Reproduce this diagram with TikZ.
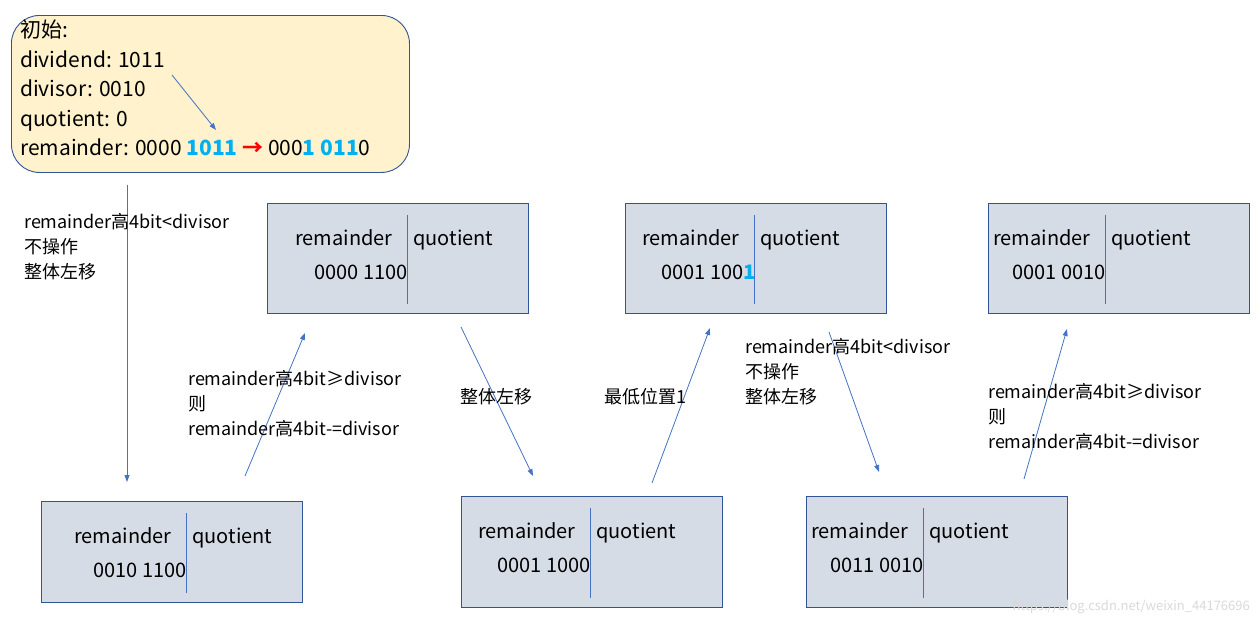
\documentclass[tikz,border=0pt]{standalone}
\usepackage{fontspec}
\setmainfont{Noto Sans CJK SC}
\usetikzlibrary{arrows.meta}
\definecolor{bfill}{HTML}{D6DCE5}
\definecolor{bdraw}{HTML}{2F5597}
\definecolor{arr}{HTML}{4472C4}
\definecolor{hl}{HTML}{00B0F0}
\definecolor{yfill}{HTML}{FFF2CC}
\tikzset{
  reg/.style={draw=bdraw, fill=bfill, line width=0.9pt},
  conn/.style={draw=arr, line width=0.8pt, -{Triangle[length=7pt,width=5pt]}},
  lbl/.style={anchor=north west, align=left, inner sep=0pt, font=\fontsize{18}{25}\selectfont},
  btxt/.style={anchor=base west, inner sep=0pt, font=\fontsize{20}{24}\selectfont},
}
\begin{document}
\begin{tikzpicture}[x=1pt,y=-1pt]
\useasboundingbox (0,0) rectangle (1258,624);
% top box
\node[draw=bdraw, fill=yfill, line width=0.9pt, rounded corners=28pt, minimum width=398pt, minimum height=157pt, anchor=north west] (init) at (11,15) {};
\node[anchor=north west, align=left, inner sep=0pt, font=\fontsize{21}{29.5}\selectfont] (inittxt) at (20,20) {初始:\\dividend: 1011\\divisor: 0010\\quotient: 0\\remainder: 0000 \textcolor{hl}{\textbf{1011}} \textcolor{red}{\textbf{→}} 000\textcolor{hl}{\textbf{1 011}}0};
\coordinate (d1) at (172,75); \coordinate (d2) at (216,130);
\draw[conn] (d1) -- (d2);
% boxes
\newcommand{\regbox}[6]{%
  \node[reg, minimum width=261pt, minimum height=#4pt, anchor=north west] (#1) at (#2,#3) {};
  \draw[arr, line width=0.8pt] ($(#1.north west)+(#5,12)$) -- ($(#1.south west)+(#5,-10)$);
  \node[btxt] (#1r) at ($(#1.north west)+(#5-112,42)$) {remainder};
  \node[btxt] (#1q) at ($(#1.north west)+(#5+6,42)$) {quotient};
  \node[btxt] (#1v) at ($(#1.north west)+(#5-93,76)$) {#6};
}
\usetikzlibrary{calc}
\regbox{b1}{267}{203}{110}{140}{0000 1100}
\regbox{b2}{625}{203}{110}{129}{0001 100\textcolor{hl}{\textbf{1}}}
\regbox{b3}{988}{203}{110}{117}{0001 0010}
\regbox{b4}{41}{501}{101}{145}{0010 1100}
\regbox{b5}{461}{496}{111}{129}{0001 1000}
\regbox{b6}{806}{496}{111}{117}{0011 0010}
% connectors
\coordinate (a1) at (127,185); \coordinate (a2) at (127,482);
\draw[conn] (a1) -- (a2);
\coordinate (c1) at (245,476); \coordinate (c2) at (305,333);
\draw[conn] (c1) -- (c2);
\coordinate (e1) at (461,327); \coordinate (e2) at (533,476);
\draw[conn] (e1) -- (e2);
\coordinate (f1) at (652,483); \coordinate (f2) at (710,328);
\draw[conn] (f1) -- (f2);
\coordinate (g1) at (829,332); \coordinate (g2) at (879,472);
\draw[conn] (g1) -- (g2);
\coordinate (h1) at (1024,479); \coordinate (h2) at (1067,329);
\draw[conn] (h1) -- (h2);
% labels
\node[lbl] (l1) at (24,213) {remainder高4bit<divisor\\不操作\\整体左移};
\node[lbl] (l2) at (188,370) {remainder高4bit≥divisor\\则\\remainder高4bit-=divisor};
\node[lbl] (l3) at (460,388) {整体左移};
\node[lbl] (l4) at (604,388) {最低位置1};
\node[lbl] (l5) at (745,338) {remainder高4bit<divisor\\不操作\\整体左移};
\node[lbl] (l6) at (988,383) {remainder高4bit≥divisor\\则\\remainder高4bit-=divisor};
\node[anchor=south east, inner sep=0pt, text=black!15, font=\fontsize{13}{13}\selectfont] (wm) at (1250,614) {https://blog.csdn.net/weixin\_44176696};
\end{tikzpicture}
\end{document}
